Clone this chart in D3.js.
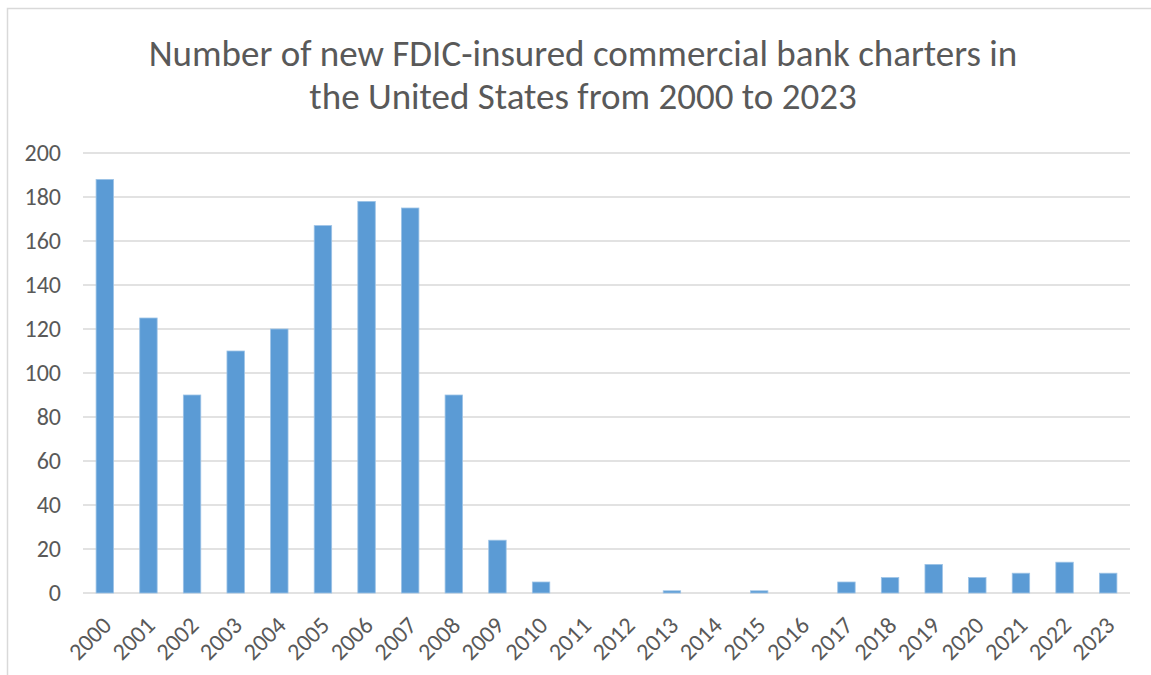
<!DOCTYPE html>
<html>
<head>
<meta charset="utf-8">
<script src="https://cdn.jsdelivr.net/npm/d3@7"></script>
<style>
  body { margin: 0; background: #fff; }
  svg { display: block; font-family: Carlito, Calibri, "Open Sans", sans-serif; }
</style>
</head>
<body>
<svg></svg>
<script>
var WIDTH = 1151;
var HEIGHT = 675;

var years = ['2000', '2001', '2002', '2003', '2004', '2005', '2006', '2007',
  '2008', '2009', '2010', '2011', '2012', '2013', '2014', '2015', '2016',
  '2017', '2018', '2019', '2020', '2021', '2022', '2023'];
var charters = [188, 125, 90, 110, 120, 167, 178, 175, 90, 24, 5, 0, 0, 1,
  0, 1, 0, 5, 7, 13, 7, 9, 14, 9];
var yTicks = [0, 20, 40, 60, 80, 100, 120, 140, 160, 180, 200];
var titleLines = ['Number of new FDIC-insured commercial bank charters in',
  'the United States from 2000 to 2023'];

var svg = d3.select('svg')
  .attr('width', WIDTH)
  .attr('height', HEIGHT);

// chart frame
svg.append('rect')
  .attr('x', 7.5)
  .attr('y', 8.5)
  .attr('width', WIDTH)
  .attr('height', HEIGHT)
  .attr('fill', 'none')
  .attr('stroke', '#d9d9d9')
  .attr('stroke-width', 1.5);

svg.append('text')
  .attr('text-anchor', 'middle')
  .attr('fill', '#595959')
  .attr('font-size', 37)
  .selectAll('tspan')
  .data(titleLines)
  .enter()
  .append('tspan')
  .attr('x', 583)
  .attr('y', function(d, i) { return 66 + i * 43; })
  .text(function(d) { return d; });

var xScale = d3.scaleBand()
  .domain(years)
  .range([83, 1130])
  .paddingInner(0.6)
  .paddingOuter(0.3);

var yScale = d3.scaleLinear()
  .domain([0, 200])
  .range([593, 153]);

// gridlines
svg.append('g')
  .selectAll('line')
  .data(yTicks)
  .enter()
  .append('line')
  .attr('x1', 83)
  .attr('x2', 1130)
  .attr('y1', function(d) { return yScale(d); })
  .attr('y2', function(d) { return yScale(d); })
  .attr('stroke', '#d9d9d9')
  .attr('stroke-width', 1.5);

var yAxis = svg.append('g')
  .attr('transform', 'translate(83,0)')
  .call(d3.axisLeft(yScale).tickValues(yTicks).tickSize(0).tickPadding(22));
yAxis.select('.domain').remove();
yAxis.selectAll('text')
  .attr('font-size', 24)
  .attr('fill', '#595959')
  .attr('font-family', 'Carlito, Calibri, "Open Sans", sans-serif');

svg.append('g')
  .selectAll('rect')
  .data(charters)
  .enter()
  .append('rect')
  .attr('x', function(d, i) { return xScale(years[i]); })
  .attr('width', xScale.bandwidth())
  .attr('y', function(d) { return yScale(d); })
  .attr('height', function(d) { return yScale(0) - yScale(d); })
  .attr('fill', '#5b9bd5')
  .attr('stroke', '#9dc3e6')
  .attr('stroke-width', 0.8);

var xAxis = svg.append('g')
  .attr('transform', 'translate(0,593)')
  .call(d3.axisBottom(xScale).tickSize(0).tickPadding(0));
xAxis.select('.domain').remove();
xAxis.selectAll('text')
  .attr('font-size', 24)
  .attr('fill', '#595959')
  .attr('font-family', 'Carlito, Calibri, "Open Sans", sans-serif')
  .attr('text-anchor', 'end')
  .attr('dy', 0)
  .attr('transform', 'translate(8,34) rotate(-45)');
</script>
</body>
</html>
